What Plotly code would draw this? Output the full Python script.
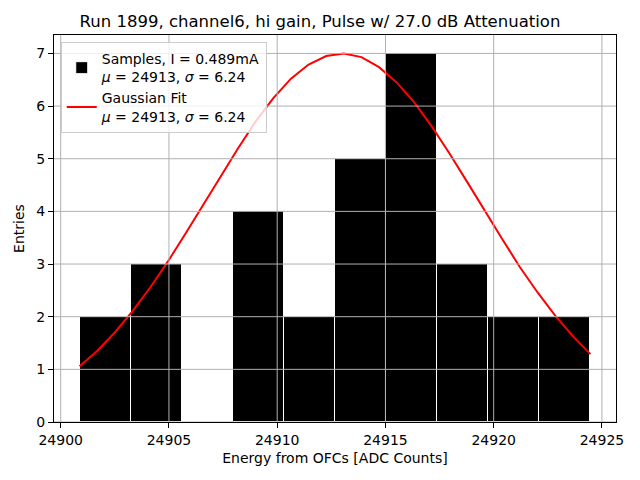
import plotly.graph_objects as go

# Histogram bins (edges) and counts
bin_edges = [24900.87, 24903.23, 24905.59, 24907.95, 24910.31, 24912.67,
             24915.03, 24917.39, 24919.75, 24922.11, 24924.47]
counts = [2, 3, 0, 4, 2, 5, 7, 3, 2, 2]

# Gaussian fit curve
fit_x_start = 24900.87
fit_x_end = 24924.47
fit_y = [1.06, 1.35, 1.70, 2.10, 2.55, 3.04, 3.57, 4.12, 4.67, 5.20,
         5.71, 6.15, 6.52, 6.79, 6.95, 7.00, 6.93, 6.74, 6.45, 6.07,
         5.61, 5.10, 4.56, 4.01, 3.47, 2.94, 2.46, 2.02, 1.63, 1.29]

x_ticks = [24900, 24905, 24910, 24915, 24920, 24925]
y_ticks = [0, 1, 2, 3, 4, 5, 6, 7]

title = "Run 1899, channel6, hi gain, Pulse w/ 27.0 dB Attenuation"
label_samples = "Samples, I = 0.489mA<br><i>μ</i> = 24913, <i>σ</i> = 6.24"
label_fit = "Gaussian Fit<br><i>μ</i> = 24913, <i>σ</i> = 6.24"

centers = [(a + b) / 2 for a, b in zip(bin_edges[:-1], bin_edges[1:])]
widths = [b - a for a, b in zip(bin_edges[:-1], bin_edges[1:])]
n = len(fit_y)
fit_x = [fit_x_start + i * (fit_x_end - fit_x_start) / (n - 1) for i in range(n)]

span = bin_edges[-1] - bin_edges[0]
x_range = [bin_edges[0] - 0.05 * span, bin_edges[-1] + 0.05 * span]
y_range = [0, max(counts) * 1.05]

fig = go.Figure()
fig.add_trace(go.Bar(x=centers, y=counts, width=widths, name=label_samples,
                     marker=dict(color="black", line=dict(color="white", width=1))))
fig.add_trace(go.Scatter(x=fit_x, y=fit_y, mode="lines", name=label_fit,
                         line=dict(color="red", width=2)))

grid_color = "#b0b0b0"
shapes = []
for t in x_ticks:
    if x_range[0] <= t <= x_range[1]:
        shapes.append(dict(type="line", xref="x", yref="paper", x0=t, x1=t, y0=0, y1=1,
                           line=dict(color=grid_color, width=1), layer="above"))
for t in y_ticks:
    shapes.append(dict(type="line", xref="paper", yref="y", x0=0, x1=1, y0=t, y1=t,
                       line=dict(color=grid_color, width=1), layer="above"))

fig.update_layout(
    width=640, height=480,
    margin=dict(l=54, r=24, t=35, b=58),
    paper_bgcolor="white", plot_bgcolor="white",
    font=dict(family="DejaVu Sans", size=14, color="black"),
    title=dict(text=title, x=0.5, xanchor="center", y=0.955, yanchor="middle",
               font=dict(size=16.5)),
    bargap=0,
    shapes=shapes,
    showlegend=True,
    legend=dict(x=0.012, y=0.982, xanchor="left", yanchor="top",
                bgcolor="rgba(255,255,255,0.8)", bordercolor="#cccccc", borderwidth=1,
                font=dict(size=14), tracegroupgap=2, itemwidth=30),
    xaxis=dict(range=x_range, tickvals=x_ticks, ticktext=[str(t) for t in x_ticks],
               showgrid=False, zeroline=False, showline=True, linecolor="black",
               linewidth=1, mirror=True, ticks="outside", ticklen=5, tickwidth=1,
               tickcolor="black", tickfont=dict(size=14),
               title=dict(text="Energy from OFCs [ADC Counts]", font=dict(size=14), standoff=6)),
    yaxis=dict(range=y_range, tickvals=y_ticks, showgrid=False, zeroline=False,
               showline=True, linecolor="black", linewidth=1, mirror=True,
               ticks="outside", ticklen=5, tickwidth=1, tickcolor="black",
               tickfont=dict(size=14),
               title=dict(text="Entries", font=dict(size=14), standoff=8)),
)

fig.write_html("out.html", config={"displayModeBar": False},
               post_script="document.body.style.margin='0';")
